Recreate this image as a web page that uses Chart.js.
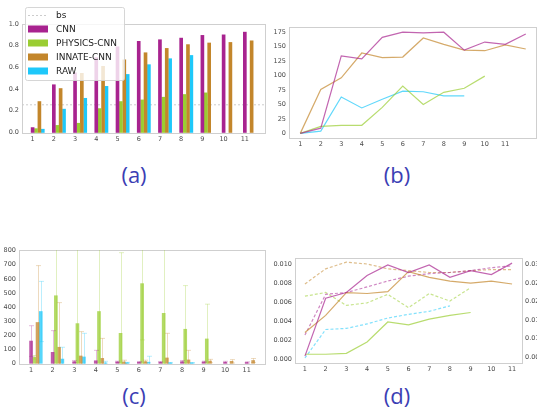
<!DOCTYPE html>
<html>
<head>
<meta charset="utf-8">
<script src="https://cdn.jsdelivr.net/npm/chart.js@4.4.1/dist/chart.umd.min.js"></script>
<style>
body { margin: 0; background: #fff; width: 537px; height: 411px; position: relative; overflow: hidden; }
canvas { position: absolute; }
.lab { position: absolute; width: 60px; text-align: center; color: #3b3eb4; font: 22px "Open Sans", sans-serif; line-height: 24px; }
</style>
</head>
<body>
<canvas id="ca" width="270" height="150" style="left:0;top:0"></canvas>
<canvas id="cb" width="267" height="150" style="left:270px;top:0"></canvas>
<canvas id="cc" width="270" height="135" style="left:0;top:240px"></canvas>
<canvas id="cd" width="267" height="125" style="left:270px;top:250px"></canvas>
<div class="lab" style="left:104px;top:162px">(a)</div>
<div class="lab" style="left:367px;top:162px">(b)</div>
<div class="lab" style="left:104px;top:383px">(c)</div>
<div class="lab" style="left:367px;top:383px">(d)</div>
<script>
const steps = [1, 2, 3, 4, 5, 6, 7, 8, 9, 10, 11];
const stepsB = [1, 2, 3, 4, 5, 6, 7, 8, 9, 10, 11, 12];
const names = ['CNN', 'PHYSICS-CNN', 'INNATE-CNN', 'RAW'];
const baseline = 0.255;

// (a) accuracy
const accCNN = [0.045, 0.44, 0.55, 0.69, 0.79, 0.84, 0.855, 0.87, 0.895, 0.90, 0.925];
const accPhysics = [0.035, 0.065, 0.085, 0.22, 0.285, 0.30, 0.325, 0.35, 0.365, null, null];
const accInnate = [0.285, 0.405, 0.545, 0.61, 0.67, 0.735, 0.775, 0.81, 0.825, 0.83, 0.845];
const accRaw = [0.03, 0.215, 0.315, 0.425, 0.535, 0.625, 0.68, 0.71, null, null, null];
const ticksA = [0, 0.2, 0.4, 0.6, 0.8, 1.0];

// (b) time
const timeCNN = [0, 9, 134, 129, 166, 175, 174, 175, 144, 158, 154, 172];
const timePhysics = [0, 12, 14, 14, 45, 82, 50, 71, 78, 99];
const timeInnate = [0, 76, 96, 139, 131, 132, 165, 154, 144, 143, 153, 146];
const timeRaw = [0, 4, 63, 44, 59, 73, 72, 65, 65];
const ticksB = [0, 25, 50, 75, 100, 125, 150, 175];

// (c) values with error
const valCNN = [158, 78, 12, 18, 10, 8, 8, 12, 10, 8, 6];
const errCNN = [109, 154, 8, 74, 5, 5, 5, 8, 5, 6, 5];
const valPhysics = [42, 480, 282, 368, 213, 566, 355, 242, 173, null, null];
const errPhysics = [13, 560, 600, 520, 573, 400, 500, 310, 247, null, null];
const valInnate = [290, 114, 52, 35, 10, 12, 38, 24, 16, 14, 20];
const errInnate = [404, 317, 173, 142, 12, 10, 175, 68, 12, 12, 14];
const valRaw = [368, 30, 45, 3, 4, 8, 3, 3, null, null, null];
const errRaw = [214, 84, 168, 11, 3, 42, 3, 2, null, null, null];
const ticksC = [0, 100, 200, 300, 400, 500, 600, 700, 800];

// (d) loss, left axis (solid) and right axis (dashed)
const lossCNN = [0.0003, 0.0064, 0.0070, 0.0088, 0.0099, 0.0091, 0.0099, 0.0086, 0.0093, 0.0089, 0.0101];
const lossPhysics = [0.0005, 0.0005, 0.0006, 0.0018, 0.0039, 0.0036, 0.0042, 0.0046, 0.0049];
const lossInnate = [0.0028, 0.0046, 0.0070, 0.0069, 0.0071, 0.0092, 0.0086, 0.0082, 0.0080, 0.0082, 0.0079];
const valLossCNN = [0.0110, 0.0220, 0.0225, 0.0240, 0.0256, 0.0269, 0.0276, 0.0279, 0.0284, 0.0292, 0.0297];
const valLossPhysics = [0.0215, 0.0225, 0.0190, 0.0197, 0.0220, 0.0184, 0.0222, 0.0202, 0.0238];
const valLossInnate = [0.0248, 0.0289, 0.0307, 0.0302, 0.0289, 0.0284, 0.0279, 0.0279, 0.0284, 0.0287, 0.0287];
const valLossRaw = [0.0048, 0.0125, 0.0128, 0.0140, 0.0156, 0.0166, 0.0174, 0.0189];
const ticksD = [0, 0.002, 0.004, 0.006, 0.008, 0.010];
const ticksD2 = [0.005, 0.010, 0.015, 0.020, 0.025, 0.030];

const rgb = [[168, 35, 143], [154, 205, 50], [195, 134, 43], [30, 200, 250]];
const col = (i, a) => `rgba(${rgb[i].join(',')},${a})`;

Chart.defaults.font.family = 'DejaVu Sans';
const tickFont = { family: 'DejaVu Sans', size: 6.5 };
const tickColor = '#4a4a4a';

function pts(xs, ys, off, errs) {
    const out = [];
    xs.forEach((x, i) => {
        if (i < ys.length && ys[i] !== null) out.push({ x: x + off, y: ys[i], e: errs ? errs[i] : null });
    });
    return out;
}

function xAxis(min, max, ticks, h) {
    return {
        type: 'linear', min, max, offset: false, bounds: 'data',
        grid: { display: false, drawTicks: false }, border: { display: false },
        afterBuildTicks: s => { s.ticks = ticks.map(v => ({ value: v })); },
        afterFit: s => { s.height = h; },
        ticks: { font: tickFont, color: tickColor, padding: 2, maxRotation: 0, autoSkip: false, callback: v => String(v) }
    };
}

function yAxis(min, max, ticks, w, fmt, pos) {
    return {
        type: 'linear', min, max, bounds: 'data', position: pos || 'left',
        grid: { display: false, drawTicks: false }, border: { display: false },
        afterBuildTicks: s => { s.ticks = ticks.map(v => ({ value: v })); },
        afterFit: s => { s.width = w; },
        ticks: { font: tickFont, color: tickColor, padding: 3, autoSkip: false, callback: fmt }
    };
}

const frame = {
    id: 'frame',
    beforeDatasetsDraw(chart) {
        const a = chart.chartArea, c = chart.ctx;
        c.save();
        c.strokeStyle = '#cfcfcf';
        c.lineWidth = 1;
        c.strokeRect(Math.round(a.left) + 0.5, Math.round(a.top) + 0.5, Math.round(a.width), Math.round(a.height));
        c.restore();
    }
};

const boxLegend = {
    id: 'boxLegend',
    afterDraw(chart) {
        const c = chart.ctx;
        c.save();
        c.fillStyle = 'rgba(255,255,255,0.8)';
        c.strokeStyle = 'rgba(210,210,210,0.9)';
        c.lineWidth = 1;
        c.beginPath();
        c.roundRect(25.5, 7.5, 99, 73, 2);
        c.fill();
        c.stroke();
        c.font = '9px "DejaVu Sans"';
        c.textBaseline = 'middle';
        chart.data.datasets.forEach((ds, i) => {
            const y = 15 + i * 14;
            if (ds.type === 'line') {
                c.strokeStyle = ds.borderColor;
                c.setLineDash([2, 2]);
                c.beginPath();
                c.moveTo(28, y + 0.5);
                c.lineTo(48, y + 0.5);
                c.stroke();
                c.setLineDash([]);
            } else {
                c.fillStyle = ds.backgroundColor;
                c.fillRect(28, y - 3.5, 20, 7);
            }
            c.fillStyle = '#222';
            c.fillText(ds.label, 56, y + 0.5);
        });
        c.restore();
    }
};

const errorBars = {
    id: 'errorBars',
    afterDatasetsDraw(chart) {
        const c = chart.ctx, a = chart.chartArea, ys = chart.scales.y;
        c.save();
        c.beginPath();
        c.rect(a.left, a.top, a.width, a.height);
        c.clip();
        chart.data.datasets.forEach((ds, i) => {
            const meta = chart.getDatasetMeta(i);
            c.strokeStyle = ds.errColor;
            c.lineWidth = 1;
            meta.data.forEach((bar, j) => {
                const p = ds.data[j];
                if (p.e == null) return;
                const x = Math.round(bar.x) + 0.5;
                const t = ys.getPixelForValue(p.y + p.e), b = ys.getPixelForValue(p.y - p.e);
                c.beginPath();
                c.moveTo(x, t); c.lineTo(x, b);
                c.moveTo(x - 2.5, t); c.lineTo(x + 2.5, t);
                c.moveTo(x - 2.5, b); c.lineTo(x + 2.5, b);
                c.stroke();
            });
        });
        c.restore();
    }
};

const common = {
    responsive: false,
    animation: false,
    plugins: { legend: { display: false }, tooltip: { enabled: false } }
};

// (a)
const accSeries = [accCNN, accPhysics, accInnate, accRaw];
new Chart(document.getElementById('ca'), {
    type: 'bar',
    data: {
        datasets: [{
            type: 'line', label: 'bs', order: 10,
            data: [{ x: 0.5, y: baseline }, { x: 11.95, y: baseline }],
            borderColor: '#cccccc', borderWidth: 1, borderDash: [2, 2], pointRadius: 0
        }].concat(accSeries.map((s, i) => ({
            label: names[i], data: pts(steps, s, i * 0.16),
            backgroundColor: col(i, 1), grouped: false, barThickness: 3
        })))
    },
    options: Object.assign({}, common, {
        layout: { padding: { left: 0, right: 5, top: 24, bottom: 3 } },
        scales: {
            x: xAxis(0.5, 11.95, steps, 14),
            y: yAxis(-0.005, 1.0, ticksA, 22, v => v.toFixed(1))
        }
    }),
    plugins: [frame, boxLegend]
});

// (b)
const timeSeries = [timeCNN, timePhysics, timeInnate, timeRaw];
new Chart(document.getElementById('cb'), {
    type: 'line',
    data: {
        datasets: timeSeries.map((s, i) => ({
            label: names[i], data: pts(stepsB, s, 0),
            borderColor: col(i, 0.7), borderWidth: 1.2, pointRadius: 0, tension: 0
        }))
    },
    options: Object.assign({}, common, {
        layout: { padding: { left: 0, right: 1, top: 27, bottom: 2 } },
        scales: {
            x: xAxis(0.45, 12.5, steps, 10),
            y: yAxis(-8, 184, ticksB, 19, v => String(v))
        }
    }),
    plugins: [frame]
});

// (c)
const valSeries = [valCNN, valPhysics, valInnate, valRaw];
const errSeries = [errCNN, errPhysics, errInnate, errRaw];
new Chart(document.getElementById('cc'), {
    type: 'bar',
    data: {
        datasets: valSeries.map((s, i) => ({
            label: names[i], data: pts(steps, s, i * 0.15, errSeries[i]),
            backgroundColor: col(i, 0.75), errColor: col(i, 0.3), grouped: false, barThickness: 3
        }))
    },
    options: Object.assign({}, common, {
        layout: { padding: { left: 0, right: 5, top: 10, bottom: 0 } },
        scales: {
            x: xAxis(0.44, 11.85, steps, 11),
            y: yAxis(-5, 805, ticksC, 19, v => String(v))
        }
    }),
    plugins: [frame, errorBars]
});

// (d)
const lossSeries = [lossCNN, lossPhysics, lossInnate, null];
const valLossSeries = [valLossCNN, valLossPhysics, valLossInnate, valLossRaw];
const dsD = [];
lossSeries.forEach((s, i) => {
    if (s) dsD.push({ label: names[i] + ' train', data: pts(steps, s, 0), yAxisID: 'y',
        borderColor: col(i, 0.7), borderWidth: 1.2, pointRadius: 0, tension: 0 });
});
valLossSeries.forEach((s, i) => {
    dsD.push({ label: names[i] + ' val', data: pts(steps, s, 0), yAxisID: 'y1',
        borderColor: col(i, 0.55), borderWidth: 1.2, borderDash: [3, 2], pointRadius: 0, tension: 0 });
});
new Chart(document.getElementById('cd'), {
    type: 'line',
    data: { datasets: dsD },
    options: Object.assign({}, common, {
        layout: { padding: { left: 0, right: 0, top: 8, bottom: 0 } },
        scales: {
            x: xAxis(0.52, 11.48, steps, 12),
            y: yAxis(-0.00042, 0.01064, ticksD, 25, v => v.toFixed(3)),
            y1: yAxis(0.00345, 0.03182, ticksD2, 15, v => v.toFixed(3), 'right')
        }
    }),
    plugins: [frame]
});
</script>
</body>
</html>
